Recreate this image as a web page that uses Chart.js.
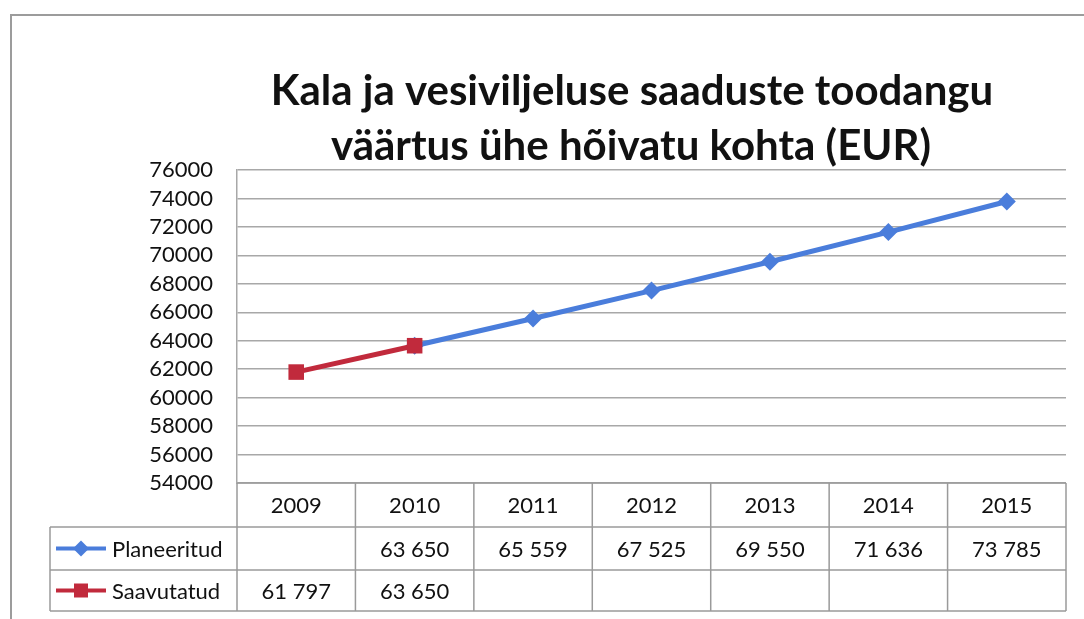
<!DOCTYPE html>
<html>
<head>
<meta charset="utf-8">
<script src="https://cdn.jsdelivr.net/npm/chart.js@4.4.0/dist/chart.umd.min.js"></script>
<style>
    html, body { margin: 0; padding: 0; background: #fff; }
    #wrap { position: relative; width: 1084px; height: 619px; overflow: hidden; }
    #frame { position: absolute; left: 10px; top: 14px; width: 1100px; height: 640px;
             border-left: 2px solid #9c9c9c; border-top: 2px solid #9c9c9c; }
    canvas { position: absolute; left: 0; top: 0; }
</style>
</head>
<body>
<div id="wrap">
    <div id="frame"></div>
    <canvas id="chart" width="1084" height="619"></canvas>
</div>
<script>
// --- data ---
const years = ['2009', '2010', '2011', '2012', '2013', '2014', '2015'];
const planeeritud = [null, 63650, 65559, 67525, 69550, 71636, 73785];
const saavutatud = [61797, 63650, null, null, null, null, null];
const seriesNames = ['Planeeritud', 'Saavutatud'];
const titleLines = ['Kala ja vesiviljeluse saaduste toodangu', 'väärtus ühe hõivatu kohta (EUR)'];
const yMin = 54000;
const yMax = 76000;
const yStep = 2000;

const blue = '#4a7ddb';
const red = '#c12a3c';
const textColor = '#111';
const lineGray = '#9a9a9a';

function fmt(v) {
    if (v === null || v === undefined) return '';
    return String(v).replace(/\B(?=(\d{3})+(?!\d))/g, ' ');
}

function drawMarker(ctx, style, x, y, r, color) {
    ctx.fillStyle = color;
    ctx.beginPath();
    if (style === 'rectRot') {
        ctx.moveTo(x - r, y);
        ctx.lineTo(x, y - r);
        ctx.lineTo(x + r, y);
        ctx.lineTo(x, y + r);
    } else {
        ctx.rect(x - r, y - r, r * 2, r * 2);
    }
    ctx.closePath();
    ctx.fill();
}

// titel + andmetabel joonise all
const tablePlugin = {
    id: 'dataTable',
    afterDraw(chart) {
        const ctx = chart.ctx;
        const area = chart.chartArea;
        const xScale = chart.scales.x;
        const n = years.length;
        const colW = (area.right - area.left) / n;
        const rows = [area.bottom, area.bottom + 44, area.bottom + 87, area.bottom + 128];
        const legendLeft = 50;

        ctx.save();

        // title
        ctx.fillStyle = textColor;
        ctx.font = 'bold 42px Lato';
        ctx.textAlign = 'center';
        ctx.textBaseline = 'middle';
        ctx.fillText(titleLines[0], 632, 91);
        ctx.fillText(titleLines[1], 631, 146);

        // grid of the table
        ctx.strokeStyle = lineGray;
        ctx.lineWidth = 1.5;
        ctx.beginPath();
        ctx.moveTo(area.left, rows[0]);
        ctx.lineTo(area.right, rows[0]);
        for (let r = 1; r < rows.length; r++) {
            ctx.moveTo(legendLeft, rows[r]);
            ctx.lineTo(area.right, rows[r]);
        }
        for (let i = 0; i <= n; i++) {
            const xx = area.left + i * colW;
            ctx.moveTo(xx, rows[0]);
            ctx.lineTo(xx, rows[3]);
        }
        ctx.moveTo(legendLeft, rows[1]);
        ctx.lineTo(legendLeft, rows[3]);
        ctx.stroke();

        // texts
        ctx.font = '22px Lato';
        ctx.fillStyle = textColor;
        ctx.textAlign = 'center';
        ctx.textBaseline = 'middle';
        const rowData = [planeeritud, saavutatud];
        years.forEach((yr, i) => {
            const cx = xScale.getPixelForValue(i);
            ctx.fillText(yr, cx, (rows[0] + rows[1]) / 2 + 1);
            rowData.forEach((arr, k) => {
                ctx.fillText(fmt(arr[i]), cx, (rows[k + 1] + rows[k + 2]) / 2 + 1);
            });
        });

        // legend keys
        const keys = [
            { color: blue, style: 'rectRot', r: 8 },
            { color: red, style: 'rect', r: 7 }
        ];
        keys.forEach((k, i) => {
            const cy = (rows[i + 1] + rows[i + 2]) / 2;
            ctx.strokeStyle = k.color;
            ctx.lineWidth = 4;
            ctx.beginPath();
            ctx.moveTo(legendLeft + 6, cy);
            ctx.lineTo(legendLeft + 56, cy);
            ctx.stroke();
            drawMarker(ctx, k.style, legendLeft + 31, cy, k.r, k.color);
            ctx.fillStyle = textColor;
            ctx.textAlign = 'left';
            ctx.fillText(seriesNames[i], legendLeft + 62, cy + 1);
        });

        ctx.restore();
    }
};

const ctx = document.getElementById('chart').getContext('2d');
new Chart(ctx, {
    type: 'line',
    data: {
        labels: years,
        datasets: [{
            label: seriesNames[0],
            data: planeeritud,
            borderColor: blue,
            backgroundColor: blue,
            borderWidth: 5,
            pointStyle: 'rectRot',
            pointRadius: 9,
            pointBorderWidth: 0,
            order: 1
        }, {
            label: seriesNames[1],
            data: saavutatud,
            borderColor: red,
            backgroundColor: red,
            borderWidth: 5,
            pointStyle: 'rect',
            pointRadius: 11,
            pointBorderWidth: 0,
            order: 0
        }]
    },
    options: {
        responsive: false,
        animation: false,
        layout: { padding: { left: 0, right: 18, top: 170, bottom: 136 } },
        plugins: {
            legend: { display: false },
            title: { display: false },
            tooltip: { enabled: false }
        },
        scales: {
            x: {
                type: 'category',
                offset: true,
                display: false
            },
            y: {
                min: yMin,
                max: yMax,
                ticks: {
                    stepSize: yStep,
                    autoSkip: false,
                    color: textColor,
                    font: { family: 'Lato', size: 22 },
                    padding: 24,
                    callback: v => String(v)
                },
                grid: { color: '#a8a8a8', lineWidth: 1.5, tickLength: 0 },
                border: { color: '#a8a8a8', width: 1.5 },
                afterFit(scale) { scale.width = 237; }
            }
        }
    },
    plugins: [tablePlugin]
});
</script>
</body>
</html>
